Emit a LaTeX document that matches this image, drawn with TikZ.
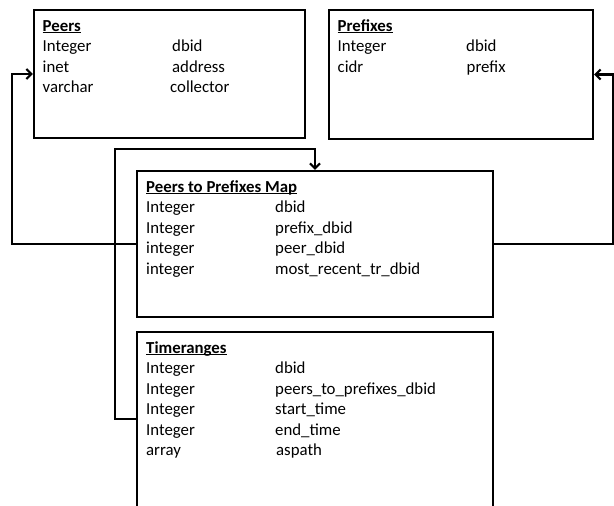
\documentclass[tikz,border=0pt]{standalone}
\usepackage{fontspec}
\setmainfont{Carlito}
\usetikzlibrary{arrows.meta}
\newsavebox\ulbox
\newcommand\myul[1]{\sbox\ulbox{#1}\rlap{\rule[-1.7pt]{\wd\ulbox}{1.2pt}}\usebox\ulbox}
\begin{document}
\begin{tikzpicture}[x=1pt,y=-1pt,
  tbl/.style={draw,line width=2.2pt,rectangle,inner sep=0pt},
  txt/.style={anchor=base west,inner sep=0pt,font=\fontsize{16.8}{20}\selectfont},
  ttl/.style={txt,font=\fontsize{16.8}{20}\selectfont\bfseries},
  conn/.style={line width=2.2pt,-{Straight Barb[length=5pt,width=10pt]}}]
\useasboundingbox[fill=white] (0,0) rectangle (614,506);
\clip (0,0) rectangle (614,506);
% boxes
\node[tbl,minimum width=271pt,minimum height=128pt] (peers) at (169.5,74) {};
\node[tbl,minimum width=264pt,minimum height=129pt] (prefixes) at (461,74.5) {};
\node[tbl,minimum width=356pt,minimum height=146pt] (map) at (315,244) {};
\node[tbl,minimum width=356pt,minimum height=188pt] (tr) at (315,426) {};
% Peers
\node[ttl] (pe0) at (42.5,31) {\myul{Peers}};
\node[txt] (pe1a) at (42.5,51.5) {Integer};
\node[txt] (pe1b) at (172,51.5) {dbid};
\node[txt] (pe2a) at (42.5,72) {inet};
\node[txt] (pe2b) at (172,72) {address};
\node[txt] (pe3a) at (42.5,92.5) {varchar};
\node[txt] (pe3b) at (170,92.5) {collector};
% Prefixes
\node[ttl] (pr0) at (337.5,31) {\myul{Prefixes}};
\node[txt] (pr1a) at (337.5,51.5) {Integer};
\node[txt] (pr1b) at (466,51.5) {dbid};
\node[txt] (pr2a) at (337.5,72) {cidr};
\node[txt] (pr2b) at (466.5,72) {prefix};
% Map
\node[ttl] (m0) at (146,192) {\myul{Peers to Prefixes Map}};
\node[txt] (m1a) at (146,212.5) {Integer};
\node[txt] (m1b) at (275,212.5) {dbid};
\node[txt] (m2a) at (146,233) {Integer};
\node[txt] (m2b) at (275,233) {prefix\_dbid};
\node[txt] (m3a) at (146,253.5) {integer};
\node[txt] (m3b) at (275,253.5) {peer\_dbid};
\node[txt] (m4a) at (146,274) {integer};
\node[txt] (m4b) at (275,274) {most\_recent\_tr\_dbid};
% Timeranges
\node[ttl] (t0) at (146,353) {\myul{Timeranges}};
\node[txt] (t1a) at (146,373.5) {Integer};
\node[txt] (t1b) at (275,373.5) {dbid};
\node[txt] (t2a) at (146,394) {Integer};
\node[txt] (t2b) at (275,394) {peers\_to\_prefixes\_dbid};
\node[txt] (t3a) at (146,414.5) {Integer};
\node[txt] (t3b) at (275,414.5) {start\_time};
\node[txt] (t4a) at (146,435) {Integer};
\node[txt] (t4b) at (275,435) {end\_time};
\node[txt] (t5a) at (146,455.5) {array};
\node[txt] (t5b) at (276,455.5) {aspath};
% connectors
\draw[conn] (map.west) -- ++(-124,0) |- (peers.west);
\draw[conn] (map.east) -- ++(119,0) |- (prefixes.east);
\draw[conn] ([yshift=-88pt]tr.north west) -- ++(-21,0) |- ([yshift=21pt]map.north) -- (map.north);
\end{tikzpicture}
\end{document}
